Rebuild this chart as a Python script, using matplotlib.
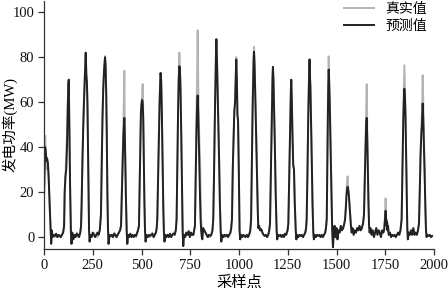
import matplotlib
matplotlib.use("Agg")
import matplotlib.pyplot as plt

sample_idx = [
    0, 3, 6, 9, 12, 16, 20, 24, 28, 33, 37, 40, 44, 50, 56, 62, 68, 74, 80, 86, 92, 98,
    103, 106, 110, 114, 118, 122, 125, 127, 130, 134, 138, 141, 145, 150, 156, 162, 168, 174, 180, 186, 190,
    193, 197, 201, 205, 209, 212, 214, 217, 220, 223, 227, 231, 234, 238, 244, 250, 256, 262, 268, 274, 280, 286,
    292, 296, 300, 304, 308, 311, 313, 316, 319, 322, 325, 328, 331, 336, 342, 348, 354, 360, 366, 372, 378, 384, 390,
    395, 399, 403, 407, 410, 412, 414, 417, 420, 424, 427, 431, 436, 442, 448, 454, 460, 466, 472, 478, 482,
    487, 490, 494, 497, 500, 503, 506, 509, 512, 515, 518, 521, 526, 532, 538, 544, 550, 556, 562, 568, 574, 578,
    581, 585, 589, 593, 596, 598, 601, 604, 608, 612, 615, 618, 622, 628, 634, 640, 646, 652, 658, 664, 670, 676,
    680, 684, 688, 691, 694, 697, 700, 704, 708, 711, 714, 718, 724, 730, 736, 742, 748, 754, 760, 766, 770,
    774, 778, 782, 785, 788, 791, 794, 797, 800, 803, 806, 809, 812, 816, 822, 828, 834, 840, 846, 852, 858, 864,
    868, 872, 876, 880, 882, 884, 887, 890, 894, 898, 902, 906, 909, 914, 920, 926, 932, 938, 944, 950, 956, 960,
    964, 968, 972, 976, 980, 983, 986, 989, 992, 995, 999, 1003, 1006, 1010, 1016, 1022, 1028, 1034, 1040, 1046, 1052, 1058,
    1062, 1066, 1070, 1073, 1075, 1077, 1080, 1084, 1088, 1092, 1096, 1099, 1103, 1108, 1114, 1120, 1126, 1132, 1138, 1144, 1150, 1155,
    1159, 1163, 1167, 1170, 1172, 1174, 1177, 1180, 1184, 1188, 1193, 1196, 1200, 1206, 1212, 1218, 1224, 1230, 1236, 1242, 1249,
    1253, 1257, 1261, 1264, 1266, 1268, 1271, 1274, 1278, 1282, 1286, 1291, 1294, 1298, 1304, 1310, 1316, 1322, 1328, 1334, 1340, 1344,
    1347, 1351, 1355, 1358, 1360, 1362, 1364, 1366, 1369, 1373, 1377, 1381, 1384, 1388, 1394, 1400, 1406, 1412, 1418, 1424, 1430, 1436, 1442, 1446,
    1450, 1453, 1456, 1458, 1460, 1462, 1465, 1468, 1471, 1475, 1478, 1482, 1486, 1490, 1495, 1500, 1505, 1510, 1516, 1522, 1528, 1534, 1540,
    1544, 1548, 1551, 1554, 1557, 1560, 1563, 1566, 1570, 1574, 1578, 1582, 1588, 1594, 1600, 1606, 1612, 1618, 1624, 1630, 1636,
    1641, 1645, 1649, 1652, 1655, 1658, 1661, 1664, 1667, 1670, 1674, 1680, 1686, 1692, 1698, 1704, 1710, 1716, 1722, 1728, 1734, 1740,
    1744, 1748, 1750, 1752, 1754, 1756, 1758, 1761, 1764, 1768, 1774, 1780, 1786, 1792, 1798, 1804, 1810, 1816, 1822, 1828,
    1834, 1838, 1842, 1845, 1848, 1851, 1854, 1857, 1860, 1863, 1866, 1870, 1876, 1882, 1888, 1894, 1900, 1906, 1912, 1918,
    1923, 1927, 1931, 1935, 1938, 1940, 1942, 1945, 1948, 1952, 1956, 1959, 1962, 1966, 1972, 1978, 1984, 1990,
]

true_mw = [
    20, 35, 45, 38, 36, 30, 33, 28, 15, 4, -2, 2, 0, 1, 0, 1, 0.5, 0, 1, 0, 1, 2,
    4, 20, 27, 38, 46, 60, 68, 70, 50, 20, 2, -3, 1, -1, 1, 0, 2, 0, 1, 2, 5,
    15, 35, 50, 62, 72, 79, 82, 74, 69, 60, 30, 3, -2, 1, 0, 1, 2, 0, 1, 0, 2, 3,
    10, 35, 55, 68, 75, 78, 80.5, 77, 65, 45, 20, 4, -3, 1, 0, 1, 0, 2, 1, 0, 1, 2, 3,
    5, 20, 35, 50, 62, 74, 50, 35, 18, 3, -3, 1, 0, 1, 0, 1, 0.5, 1, 0, 2, 3,
    5, 22, 42, 56, 60, 62, 68, 55, 35, 15, 3, -2, 1, 0, 1, 0, 1, 2, 0, 1, 2, 4,
    8, 28, 48, 62, 70, 73, 70, 58, 35, 12, 2, -2, 1, 0, 1, 0.5, 1, 0, 1, 2, 1, 3,
    8, 35, 60, 74, 82, 76, 66, 45, 20, 3, -4, 1, 0, 2, 1, 3, 0, 2, 1, 1, 3,
    5, 30, 55, 70, 92, 68, 52, 42, 35, 20, 8, 2, 0, 4, 3, 2, 1, 0, 1, 0, 1, 3,
    8, 30, 55, 75, 82, 88, 80, 68, 52, 35, 15, 3, -2, 1, 0, 1, 0, 1, 0.5, 1, 2, 4,
    8, 30, 45, 55, 62, 72, 80, 72, 55, 53, 30, 3, -1, 1, 0, 1, 0, 0.5, 1, 0, 1, 3,
    8, 35, 60, 72, 80, 84.6, 78, 62, 45, 28, 12, 4, 5, 3, 3.5, 2, 1, 0.5, 1, 0, 1, 3,
    6, 28, 50, 64, 72, 75.7, 70, 58, 40, 20, 3, -1, 1, 0.5, 1, 0, 1, 0, 1.5, 1, 3,
    6, 25, 45, 60, 66, 70, 62, 48, 33, 30, 15, 3, -1, 1, 0, 1, 0.5, 1, 0, 1, 2, 4,
    8, 30, 55, 68, 75, 79, 72, 67.5, 55, 35, 15, 2, -1, 1, 0, 1, 0.5, 1, 0, 1, 0, 1, 2, 4,
    8, 35, 58, 70, 80.4, 72, 62, 50, 35, 15, 3, -4.5, 2, 5, 0, 4, -1, 3, 2, 5, 3, 4, 6,
    8, 14, 20, 24, 27, 22, 20, 16, 10, 5, 2, 4, 1, 3, 2, 4, 3, 5, 3, 4, 6,
    10, 28, 42, 55, 68, 45, 30, 15, 5, 2, 4, 1, 3, 0, 2, 4, 1, 3, 2, 0, 3, 2,
    3, 8, 12, 17.2, 9, 6, 8, 4, 6, 1, 2, 0, 1, 0.5, 1, 0, 1, 2, 1, 3,
    8, 30, 52, 65, 76.4, 66, 55, 38, 20, 4, -1, 2, 1, 3, 1, 4, 1, 2, 1, 3,
    6, 22, 38, 46, 55, 62, 72, 60, 48, 30, 12, 3, 0, 1, 0.5, 1, 0, 0.5,
]

pred_mw = [
    18, 30, 40, 38, 34, 35, 33, 26, 17, 6, -3, 3, 0, 1, 0.5, 1.5, 0, 1, 0.5, 0, 1, 2,
    5, 20, 27, 30, 40, 58, 68, 70, 48, 22, 2, -3, 2, -1, 1, 0, 1.5, 1, 0, 2, 5,
    15, 33, 48, 60, 70, 78, 82, 72, 69, 58, 30, 3, -2, 1, 0, 2, 1, 0, 1, 2, 1, 3,
    10, 33, 53, 66, 74, 78, 80, 76, 64, 45, 20, 4, -3, 1, 0.5, 1, 0, 1.5, 1, 0, 1, 2, 3,
    5, 18, 32, 45, 50, 53, 48, 33, 18, 3, -3, 1, 0, 1.5, 0, 1, 0, 1, 0.5, 2, 3,
    5, 20, 40, 55, 59, 61, 60, 52, 34, 15, 3, -2, 1, 0, 1, 0.5, 1, 1.5, 0, 1, 2, 4,
    8, 26, 46, 60, 69, 73, 69, 57, 35, 12, 2, -2, 1, 0, 1, 0, 1.5, 0, 1, 1.5, 1, 3,
    8, 33, 58, 70, 76, 75, 66, 45, 20, 3, -4, 1, 0, 2, 1, 2.5, 0, 2, 1, 1, 3,
    5, 28, 48, 58, 63, 55, 42, 30, 18, 8, 3, 0, -1, 4, 3, 2, 1, 0, 1, 0.5, 1, 3,
    8, 28, 53, 74, 82, 88, 79, 67, 50, 34, 15, 3, -2, 1, 0, 1, 0.5, 1, 0, 1, 2, 4,
    8, 30, 43, 56, 60, 70, 79, 70, 54, 52, 30, 3, -1, 1, 0, 1, 0.5, 0, 1, 0, 1, 3,
    8, 33, 58, 70, 79, 82.4, 76, 61, 45, 28, 12, 4, 5, 3, 3.5, 2, 1, 0.5, 1, 0, 1, 3,
    6, 26, 48, 62, 71, 75.7, 69, 57, 40, 20, 3, -1, 1, 0.5, 1, 0, 1, 0, 1.5, 1, 3,
    6, 24, 44, 58, 65, 70, 60, 46, 32, 30, 15, 3, -1, 1, 0, 1, 0.5, 1, 0, 1, 2, 4,
    8, 28, 53, 67, 74, 79, 71, 67.5, 54, 35, 15, 2, -1, 1, 0, 1, 0.5, 1, 0, 1, 0, 1, 2, 4,
    8, 33, 56, 68, 74.5, 70, 61, 48, 34, 15, 3, -4.5, 2, 5, 0, 4, -1, 3, 2, 5, 3, 4, 6,
    8, 13, 18, 21, 22.4, 21, 19, 15, 10, 5, 2, 4, 1, 3, 2, 4, 3, 5, 3, 4, 6,
    10, 26, 40, 50, 53, 43, 29, 15, 5, 2, 4, 1, 3, 0, 2, 4, 1, 3, 2, 0, 3, 2,
    3, 7, 10, 11.7, 8, 5, 7, 3, 5, 1, 2, 0, 1, 0.5, 1, 0, 1, 2, 1, 3,
    8, 28, 50, 60, 66, 62, 53, 37, 20, 4, -1, 2, 1, 3, 1, 4, 1, 2, 1, 3,
    6, 20, 36, 46, 50, 55, 59.4, 52, 42, 28, 12, 3, 0, 1, 0.5, 1, 0, 0.5,
]

x_ticks = [0, 250, 500, 750, 1000, 1250, 1500, 1750, 2000]
y_ticks = [0, 20, 40, 60, 80, 100]
series_labels = ["真实值", "预测值"]

fonts = ["Liberation Serif", "Noto Sans CJK SC", "DejaVu Sans"]
plt.rcParams["font.family"] = fonts
plt.rcParams["font.size"] = 10.5

fig = plt.figure(figsize=(4.48, 2.88), dpi=100)
ax = fig.add_axes([44 / 448, 1 - 249 / 288, 390 / 448, 248 / 288])

ax.plot(sample_idx, true_mw, color="#b4b4b4", lw=1.4, label=series_labels[0])
ax.plot(sample_idx, pred_mw, color="#222222", lw=1.4, label=series_labels[1])

ax.set_xlim(0, 2000)
ax.set_ylim(-5.3, 105)
ax.set_xticks(x_ticks)
ax.set_yticks(y_ticks)
for s in ["top", "right"]:
    ax.spines[s].set_visible(False)
for s in ["left", "bottom"]:
    ax.spines[s].set_color("#333333")
    ax.spines[s].set_linewidth(0.9)
ax.tick_params(direction="out", length=4, width=0.9, color="#333333", labelcolor="#111111", pad=3)

ax.set_xlabel("采样点", fontsize=11, labelpad=2)
ax.set_ylabel("发电功率(MW)", fontsize=10.5)
ax.yaxis.set_label_coords(-0.068, 0.5)

leg = ax.legend(loc="upper right", frameon=False, fontsize=10, handlelength=2.2,
                handletextpad=0.8, labelspacing=0.25, borderaxespad=0.1,
                bbox_to_anchor=(1.0, 1.02))

fig.savefig("out.png", dpi=100)
